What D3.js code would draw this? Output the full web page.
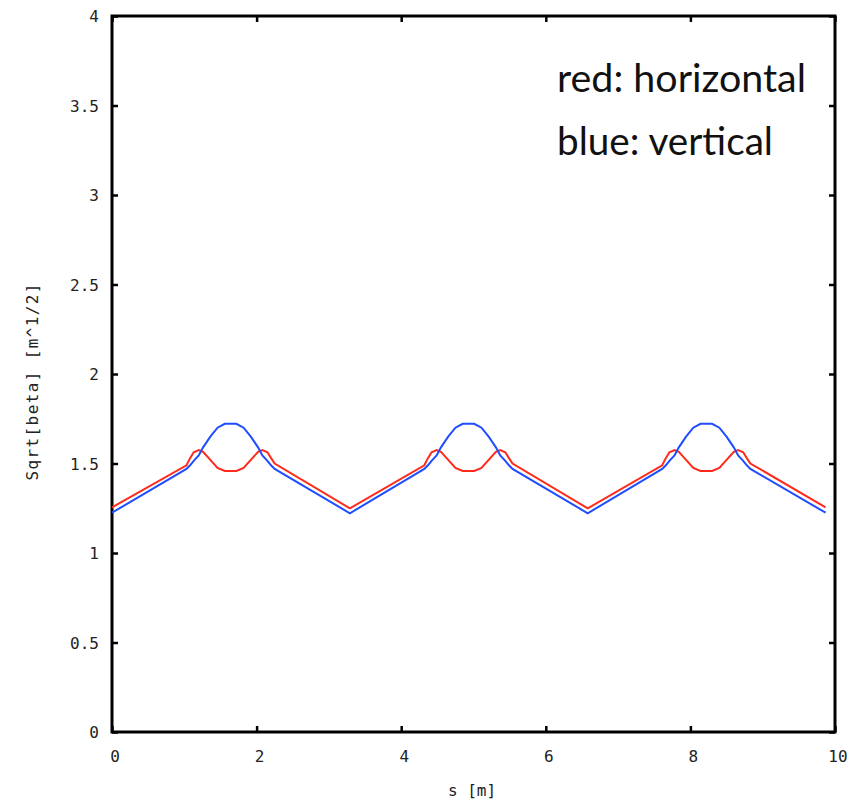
<!DOCTYPE html>
<html><head><meta charset="utf-8">
<script src="https://cdn.jsdelivr.net/npm/d3@7/dist/d3.min.js"></script>
<style>body{margin:0;background:#fff}svg{display:block}</style>
</head><body><svg id="c" width="858" height="806"></svg>
<script>
// Data
const sValues = [0.00,1.03,1.08,1.13,1.20,1.26,1.36,1.46,1.56,1.72,1.82,1.92,2.02,2.08,2.15,2.20,2.25,
  3.29,4.32,4.37,4.42,4.49,4.55,4.65,4.75,4.85,5.01,5.11,5.21,5.31,5.37,5.44,5.49,5.54,
  6.58,7.61,7.66,7.71,7.78,7.84,7.94,8.04,8.14,8.30,8.40,8.50,8.60,8.66,8.73,8.78,8.83,9.87];
const horizontal = [1.255,1.490,1.530,1.563,1.575,1.565,1.520,1.475,1.458,1.458,1.475,1.520,1.565,1.575,1.563,1.530,1.500,
  1.250,1.490,1.530,1.563,1.575,1.565,1.520,1.475,1.458,1.458,1.475,1.520,1.565,1.575,1.563,1.530,1.500,
  1.250,1.490,1.530,1.563,1.575,1.565,1.520,1.475,1.458,1.458,1.475,1.520,1.565,1.575,1.563,1.530,1.500,1.255];
const vertical = [1.225,1.470,1.490,1.515,1.545,1.590,1.650,1.700,1.722,1.722,1.700,1.650,1.590,1.545,1.515,1.490,1.470,
  1.222,1.470,1.490,1.515,1.545,1.590,1.650,1.700,1.722,1.722,1.700,1.650,1.590,1.545,1.515,1.490,1.470,
  1.222,1.470,1.490,1.515,1.545,1.590,1.650,1.700,1.722,1.722,1.700,1.650,1.590,1.545,1.515,1.490,1.470,1.225];
const xTicks = [0,2,4,6,8,10];
const yTicks = [0,0.5,1,1.5,2,2.5,3,3.5,4];
const yTickLabels = ["0","0.5","1","1.5","2","2.5","3","3.5","4"];
const legendLines = ["red: horizontal","blue: vertical"];

const svg = d3.select("#c");
const L=112, R=835, T=16, B=732;
const x = d3.scaleLinear().domain([0,10]).range([L,R]);
const y = d3.scaleLinear().domain([0,4]).range([B,T]);
const tickFont = "'DejaVu Sans Mono', monospace";

// ticks inward on all sides
const g = svg.append("g");
const axB = d3.axisBottom(x).tickValues(xTicks).tickSizeInner(-6).tickSizeOuter(0).tickFormat("");
const axT = d3.axisTop(x).tickValues(xTicks).tickSizeInner(-6).tickSizeOuter(0).tickFormat("");
const axL = d3.axisLeft(y).tickValues(yTicks).tickSizeInner(-6).tickSizeOuter(0).tickFormat("");
const axRt = d3.axisRight(y).tickValues(yTicks).tickSizeInner(-6).tickSizeOuter(0).tickFormat("");
[[axB,`translate(0,${B})`],[axT,`translate(0,${T})`],[axL,`translate(${L},0)`],[axRt,`translate(${R},0)`]].forEach(([a,t])=>{
  const gg = g.append("g").attr("transform",t).call(a);
  gg.select(".domain").remove();
  gg.selectAll("line").attr("stroke","#000").attr("stroke-width",2.5);
});
g.append("rect").attr("x",L).attr("y",T).attr("width",R-L).attr("height",B-T)
  .attr("fill","none").attr("stroke","#000").attr("stroke-width",3);

// tick labels
svg.append("g").selectAll("text").data(xTicks).join("text")
  .attr("x",d=>x(d)+3).attr("y",B+30).attr("text-anchor","middle")
  .attr("font-family",tickFont).attr("font-size",16).attr("fill","#222").text(d=>d);
svg.append("g").selectAll("text").data(yTicks).join("text")
  .attr("x",L-13).attr("y",d=>y(d)+6).attr("text-anchor","end")
  .attr("font-family",tickFont).attr("font-size",16).attr("fill","#222").text((d,i)=>yTickLabels[i]);

// axis titles
svg.append("text").attr("x",472).attr("y",796).attr("text-anchor","middle")
  .attr("font-family",tickFont).attr("font-size",16).attr("fill","#222").text("s [m]");
svg.append("text").attr("transform","translate(38,382) rotate(-90)").attr("text-anchor","middle")
  .attr("font-family",tickFont).attr("font-size",16).attr("textLength",197).attr("lengthAdjust","spacing")
  .attr("fill","#222").text("Sqrt[beta] [m^1/2]");

// lines
const line = d3.line().x((d,i)=>x(sValues[i])).y(d=>y(d));
svg.append("path").datum(horizontal).attr("d",line).attr("fill","none").attr("stroke","#ff2a1a").attr("stroke-width",2);
svg.append("path").datum(vertical).attr("d",line).attr("fill","none").attr("stroke","#1f4dff").attr("stroke-width",2);

// legend text
const legendWidths = [249,216];
svg.append("g").selectAll("text").data(legendLines).join("text")
  .attr("x",557).attr("y",(d,i)=>92+i*63)
  .attr("font-family","Lato, sans-serif").attr("font-size",38).attr("fill","#111")
  .attr("textLength",(d,i)=>legendWidths[i]).attr("lengthAdjust","spacingAndGlyphs").text(d=>d);
</script></body></html>
